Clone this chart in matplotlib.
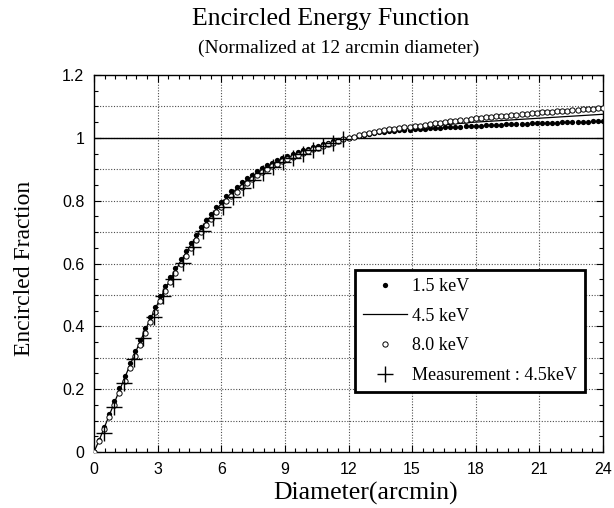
import matplotlib
matplotlib.use('Agg')
import matplotlib.pyplot as plt
from matplotlib.ticker import MultipleLocator
from matplotlib.lines import Line2D

# 直径 (arcmin)
diameter = [
    0.00, 0.24, 0.48, 0.72, 0.96, 1.20, 1.44, 1.68, 1.92, 2.16,
    2.40, 2.64, 2.88, 3.12, 3.36, 3.60, 3.84, 4.08, 4.32, 4.56,
    4.80, 5.04, 5.28, 5.52, 5.76, 6.00, 6.24, 6.48, 6.72, 6.96,
    7.20, 7.44, 7.68, 7.92, 8.16, 8.40, 8.64, 8.88, 9.12, 9.36,
    9.60, 9.84, 10.08, 10.32, 10.56, 10.80, 11.04, 11.28, 11.52, 11.76,
    12.00, 12.24, 12.48, 12.72, 12.96, 13.20, 13.44, 13.68, 13.92, 14.16,
    14.40, 14.64, 14.88, 15.12, 15.36, 15.60, 15.84, 16.08, 16.32, 16.56,
    16.80, 17.04, 17.28, 17.52, 17.76, 18.00, 18.24, 18.48, 18.72, 18.96,
    19.20, 19.44, 19.68, 19.92, 20.16, 20.40, 20.64, 20.88, 21.12, 21.36,
    21.60, 21.84, 22.08, 22.32, 22.56, 22.80, 23.04, 23.28, 23.52, 23.76,
    24.00,
]

eef_15kev = [
    0.000, 0.039, 0.081, 0.122, 0.163, 0.203, 0.243, 0.282, 0.320, 0.357,
    0.394, 0.429, 0.463, 0.496, 0.527, 0.557, 0.585, 0.613, 0.640, 0.666,
    0.691, 0.715, 0.738, 0.759, 0.779, 0.797, 0.814, 0.830, 0.845, 0.858,
    0.871, 0.883, 0.893, 0.903, 0.912, 0.920, 0.928, 0.935, 0.942, 0.948,
    0.954, 0.960, 0.965, 0.970, 0.975, 0.980, 0.984, 0.989, 0.993, 0.997,
    1.000, 1.004, 1.007, 1.010, 1.013, 1.015, 1.017, 1.019, 1.021, 1.023,
    1.024, 1.025, 1.026, 1.027, 1.028, 1.029, 1.030, 1.031, 1.032, 1.033,
    1.034, 1.035, 1.036, 1.037, 1.038, 1.039, 1.039, 1.040, 1.041, 1.041,
    1.042, 1.043, 1.043, 1.044, 1.045, 1.045, 1.046, 1.046, 1.047, 1.047,
    1.048, 1.048, 1.049, 1.049, 1.050, 1.050, 1.051, 1.051, 1.052, 1.052,
    1.053,
]

eef_45kev = [
    0.000, 0.037, 0.077, 0.117, 0.157, 0.196, 0.235, 0.274, 0.312, 0.349,
    0.386, 0.421, 0.455, 0.488, 0.519, 0.549, 0.577, 0.605, 0.632, 0.658,
    0.683, 0.707, 0.730, 0.751, 0.771, 0.789, 0.806, 0.822, 0.837, 0.851,
    0.864, 0.876, 0.887, 0.897, 0.906, 0.915, 0.923, 0.930, 0.937, 0.944,
    0.950, 0.956, 0.962, 0.967, 0.972, 0.977, 0.982, 0.987, 0.991, 0.996,
    1.000, 1.003, 1.006, 1.009, 1.012, 1.015, 1.017, 1.020, 1.022, 1.024,
    1.026, 1.028, 1.030, 1.032, 1.034, 1.035, 1.037, 1.039, 1.040, 1.042,
    1.043, 1.045, 1.046, 1.047, 1.049, 1.050, 1.051, 1.052, 1.053, 1.054,
    1.055, 1.056, 1.057, 1.058, 1.059, 1.060, 1.061, 1.062, 1.063, 1.064,
    1.065, 1.066, 1.067, 1.068, 1.069, 1.070, 1.071, 1.072, 1.073, 1.074,
    1.075,
]

eef_80kev = [
    0.000, 0.035, 0.073, 0.112, 0.151, 0.189, 0.227, 0.266, 0.304, 0.341,
    0.378, 0.413, 0.447, 0.480, 0.511, 0.541, 0.569, 0.597, 0.624, 0.650,
    0.675, 0.699, 0.722, 0.743, 0.763, 0.781, 0.798, 0.814, 0.829, 0.844,
    0.857, 0.869, 0.881, 0.891, 0.900, 0.909, 0.917, 0.925, 0.932, 0.939,
    0.946, 0.952, 0.958, 0.964, 0.969, 0.974, 0.979, 0.984, 0.989, 0.995,
    1.000, 1.004, 1.008, 1.011, 1.015, 1.018, 1.021, 1.024, 1.027, 1.029,
    1.032, 1.034, 1.036, 1.037, 1.039, 1.041, 1.043, 1.046, 1.048, 1.050,
    1.052, 1.054, 1.056, 1.058, 1.060, 1.062, 1.063, 1.065, 1.066, 1.068,
    1.069, 1.071, 1.072, 1.074, 1.075, 1.077, 1.078, 1.080, 1.081, 1.082,
    1.083, 1.085, 1.086, 1.087, 1.088, 1.089, 1.091, 1.092, 1.093, 1.094,
    1.095,
]

# 测量值 (4.5 keV)
meas_diameter = [
    0.47, 0.94, 1.42, 1.89, 2.33, 2.83, 3.27, 3.74, 4.20, 4.68,
    5.15, 5.62, 6.09, 6.56, 7.03, 7.50, 7.97, 8.44, 8.91, 9.38,
    9.85, 10.32, 10.79, 11.26, 11.73,
]
meas_fraction = [
    0.061, 0.143, 0.219, 0.295, 0.362, 0.429, 0.495, 0.550, 0.603, 0.654,
    0.705, 0.745, 0.781, 0.812, 0.841, 0.866, 0.889, 0.906, 0.923, 0.937,
    0.950, 0.962, 0.973, 0.984, 0.995,
]

y_ticks = [0, 0.2, 0.4, 0.6, 0.8, 1.0, 1.2]
y_tick_labels = ['0', '0.2', '0.4', '0.6', '0.8', '1', '1.2']
x_ticks = [0, 3, 6, 9, 12, 15, 18, 21, 24]

serif = 'Liberation Serif'
sans = 'Liberation Sans'

fig = plt.figure(figsize=(6.14, 5.08), dpi=100)
ax = fig.add_axes([94 / 614, 1 - 452 / 508, 509 / 614, 377 / 508])

# 网格: 横线每 0.1, 竖线每 3
for yv in [0.1 * i for i in range(1, 12)]:
    ax.axhline(yv, color='0.3', lw=0.8, ls=(0, (1, 1.5)), zorder=0)
for xv in x_ticks[1:-1]:
    ax.axvline(xv, color='0.3', lw=0.8, ls=(0, (1, 1.5)), zorder=0)
ax.axhline(1.0, color='black', lw=1.0, zorder=1)

ax.plot(diameter, eef_45kev, color='black', lw=0.9, zorder=2)
ax.plot(diameter, eef_15kev, 'o', color='black', ms=3.8, mew=0, zorder=3)
ax.plot(diameter, eef_80kev, 'o', mfc='white', mec='black', ms=3.8, mew=0.7, zorder=3)
ax.plot(meas_diameter, meas_fraction, '+', color='black', ms=12, mew=1.0, zorder=4)

ax.set_xlim(0, 24)
ax.set_ylim(0, 1.2)
ax.set_xticks(x_ticks)
ax.xaxis.set_minor_locator(MultipleLocator(0.5))
ax.set_yticks(y_ticks)
ax.set_yticklabels(y_tick_labels)
ax.yaxis.set_minor_locator(MultipleLocator(0.05))
ax.tick_params(which='both', direction='in', top=True, right=True, width=0.8)
ax.tick_params(which='major', length=5, labelsize=11.5, pad=7)
ax.tick_params(which='minor', length=3)
for lab in ax.get_xticklabels() + ax.get_yticklabels():
    lab.set_fontfamily(sans)
for sp in ax.spines.values():
    sp.set_linewidth(1.0)

handles = [
    Line2D([], [], ls='none', marker='o', color='black', ms=3.8, mew=0),
    Line2D([], [], color='black', lw=0.9),
    Line2D([], [], ls='none', marker='o', mfc='white', mec='black', ms=3.8, mew=0.7),
    Line2D([], [], ls='none', marker='+', color='black', ms=12, mew=1.0),
]
labels = ['1.5 keV', '4.5 keV', '8.0 keV', 'Measurement : 4.5keV']
leg = ax.legend(handles, labels, loc='upper left', bbox_to_anchor=(0.513, 0.483),
                prop={'family': serif, 'size': 13}, frameon=True, fancybox=False,
                edgecolor='black', framealpha=1, handlelength=2.4, handletextpad=0.3,
                labelspacing=0.7, borderpad=0.45, borderaxespad=0)
leg.get_frame().set_linewidth(2.0)

fig.text(331 / 614, 1 - 19 / 508, 'Encircled Energy Function', ha='center', va='center',
         family=serif, fontsize=18.5)
fig.text(339 / 614, 1 - 48 / 508, '(Normalized at 12 arcmin diameter)', ha='center',
         va='center', family=serif, fontsize=14)
fig.text(366 / 614, 1 - 493 / 508, 'Diameter(arcmin)', ha='center', va='center',
         family=serif, fontsize=18.5)
fig.text(25 / 614, 1 - 268 / 508, 'Encircled Fraction', ha='center', va='center',
         rotation=90, family=serif, fontsize=17)

fig.savefig('out.png', dpi=100)
